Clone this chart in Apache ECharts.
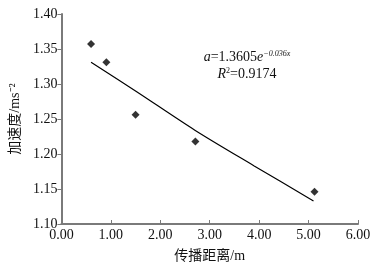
<!DOCTYPE html>
<html>
<head>
<meta charset="utf-8">
<script src="https://cdn.jsdelivr.net/npm/echarts@6/dist/echarts.min.js"></script>
<style>
  html, body { margin: 0; padding: 0; background: #fff; }
  #chart { width: 377px; height: 274px; }
</style>
</head>
<body>
<div id="chart"></div>
<script>
// measured points (distance m, acceleration ms^-2)
const distance = [0.6, 0.91, 1.5, 2.71, 5.12];
const accel = [1.357, 1.331, 1.256, 1.218, 1.146];
// fitted curve
const fitX = [0.6, 1.5, 2.7, 3.9, 5.1];
const fitY = [1.331, 1.290, 1.234, 1.183, 1.133];
const xTicks = ['0.00', '1.00', '2.00', '3.00', '4.00', '5.00', '6.00'];

const FONT = '"Liberation Serif", "Noto Sans CJK SC", serif';
const axisGray = '#7a7a7a';
const textColor = '#111';

const chart = echarts.init(document.getElementById('chart'));
chart.setOption({
  animation: false,
  backgroundColor: '#fff',
  grid: { left: 56, right: 19, top: 14, bottom: 50 },
  xAxis: {
    type: 'value',
    min: 0, max: 6, interval: 1,
    name: '传播距离/m',
    nameLocation: 'middle',
    nameGap: 25,
    nameTextStyle: { fontFamily: FONT, fontSize: 14, color: textColor },
    axisLine: { lineStyle: { color: axisGray, width: 2 } },
    axisTick: { inside: true, length: 4, lineStyle: { color: axisGray } },
    axisLabel: {
      fontFamily: FONT, fontSize: 14, color: textColor, margin: 4,
      formatter: v => xTicks[Math.round(v)]
    },
    splitLine: { show: false }
  },
  yAxis: {
    type: 'value',
    min: 1.1, max: 1.4, interval: 0.05,
    name: '加速度/ms⁻²',
    nameLocation: 'middle',
    nameGap: 38,
    nameTextStyle: { fontFamily: FONT, fontSize: 14, color: textColor },
    axisLine: { show: true, lineStyle: { color: axisGray, width: 2 } },
    axisTick: { show: true, length: 4, lineStyle: { color: axisGray } },
    axisLabel: {
      fontFamily: FONT, fontSize: 14, color: textColor, margin: 4,
      formatter: v => v.toFixed(2)
    },
    splitLine: { show: false }
  },
  series: [
    {
      type: 'scatter',
      data: distance.map((d, i) => [d, accel[i]]),
      symbol: 'diamond',
      symbolSize: 8,
      itemStyle: { color: '#000' },
      z: 3
    },
    {
      type: 'line',
      data: fitX.map((d, i) => [d, fitY[i]]),
      smooth: 0.3,
      showSymbol: false,
      lineStyle: { color: '#000', width: 1.2 }
    }
  ],
  graphic: [
    {
      type: 'text',
      x: 247, y: 66,
      style: {
        text: '{i|a}=1.3605{i|e}{sup|−0.036x}\n{i|R}{sup2|2}=0.9174',
        align: 'center',
        verticalAlign: 'middle',
        fontFamily: FONT,
        fontSize: 14,
        lineHeight: 17,
        fill: textColor,
        rich: {
          i: { fontFamily: FONT, fontStyle: 'italic', fontSize: 14 },
          sup: { fontFamily: FONT, fontStyle: 'italic', fontSize: 8, padding: [0, 0, 8, 0] },
          sup2: { fontFamily: FONT, fontSize: 8, padding: [0, 0, 8, 0] }
        }
      }
    }
  ]
});
</script>
</body>
</html>
